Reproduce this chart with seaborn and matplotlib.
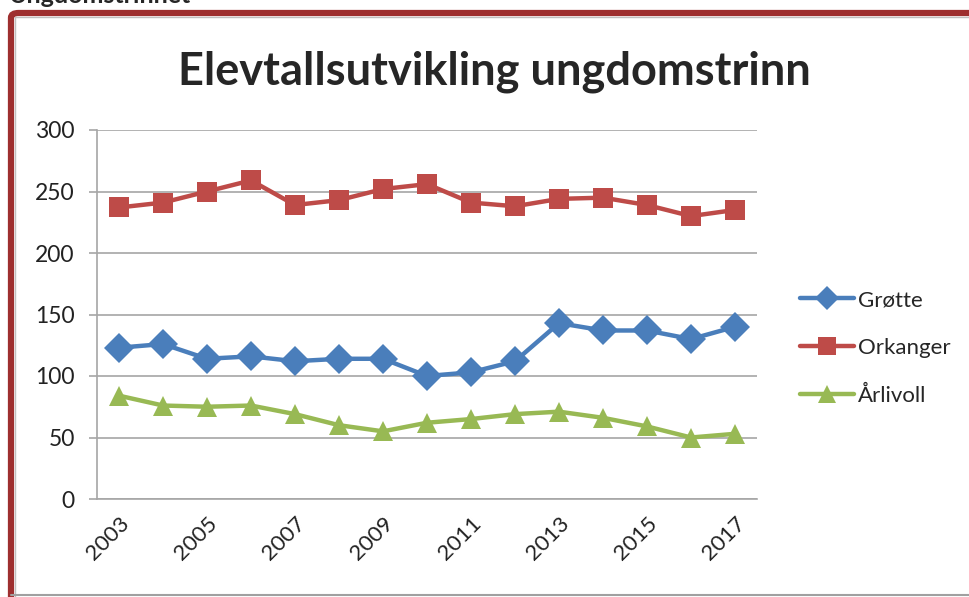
import matplotlib
matplotlib.use("Agg")
import matplotlib.pyplot as plt
import seaborn as sns
import pandas as pd
from matplotlib.patches import FancyBboxPatch
from matplotlib.lines import Line2D

years = list(range(2003, 2018))
grotte = [123, 126, 114, 116, 112, 114, 114, 100, 103, 112, 143, 137, 137, 130, 140]
orkanger = [237, 241, 250, 259, 239, 243, 252, 256, 241, 238, 244, 245, 239, 230, 235]
arlivoll = [84, 76, 75, 76, 69, 60, 55, 62, 65, 69, 71, 66, 59, 50, 53]
series_names = ["Grøtte", "Orkanger", "Årlivoll"]
colors = ["#4a7ebb", "#be4b48", "#98b954"]
markers = ["D", "s", "^"]
title = "Elevtallsutvikling ungdomstrinn"
yticks = [0, 50, 100, 150, 200, 250, 300]

rows = []
for name, vals in zip(series_names, [grotte, orkanger, arlivoll]):
    for i, (y, v) in enumerate(zip(years, vals)):
        rows.append({"pos": i, "year": y, "value": v, "serie": name})
df = pd.DataFrame(rows)

sns.set_style("white")
plt.rcParams["font.family"] = ["Lato", "DejaVu Sans"]

fig = plt.figure(figsize=(9.7, 5.97), dpi=100)
fig.patch.set_facecolor("white")
ax = fig.add_axes([97/970, 1-499/597, (757-97)/970, (499-130)/597])

sns.lineplot(data=df, x="pos", y="value", hue="serie", style="serie",
             palette=dict(zip(series_names, colors)),
             markers=dict(zip(series_names, markers)),
             dashes=False, linewidth=3.2, markersize=15, markeredgewidth=0,
             ax=ax, legend=False)

ax.set_xlim(-0.5, len(years) - 0.5)
ax.set_ylim(0, 300)
ax.set_yticks(yticks)
ax.set_yticklabels([str(t) for t in yticks], fontsize=16.5, color="#222222")
ax.yaxis.grid(True, color="#a6a6a6", linewidth=1.2)
ax.set_axisbelow(True)

odd_pos = [i for i, y in enumerate(years) if y % 2 == 1]
ax.set_xticks(odd_pos)
ax.set_xticklabels([str(years[i]) for i in odd_pos], rotation=45, ha="right",
                   rotation_mode="anchor", fontsize=16, color="#222222")
ax.tick_params(axis="x", which="major", length=0, pad=10)
ax.set_xticks([i - 0.5 for i in range(len(years) + 1)], minor=True)
ax.tick_params(axis="x", which="minor", length=8, color="#a6a6a6", width=1.2, direction="out")
ax.tick_params(axis="y", which="major", length=6, color="#a6a6a6", width=1.2, direction="out", left=True, pad=10)
ax.set_xlabel("")
ax.set_ylabel("")
for s in ["top", "right"]:
    ax.spines[s].set_visible(False)
for s in ["left", "bottom"]:
    ax.spines[s].set_color("#a6a6a6")
    ax.spines[s].set_linewidth(1.2)

handles = [Line2D([0], [0], color=c, marker=m, lw=3.2, markersize=12.5, markeredgewidth=0)
           for c, m in zip(colors, markers)]
fig.legend(handles, series_names, loc="center left", bbox_to_anchor=(780/970, 1-348/597),
           frameon=False, fontsize=16, handlelength=2.45, handletextpad=0.15, labelspacing=1.25)

fig.text(494/970, 1-72/597, title, ha="center", va="center", fontsize=32.5, fontweight="bold")
fig.text(8/970, 1-3/597, "Ungdomstrinnet", ha="left", va="baseline", fontsize=18, fontweight="bold")

# chart border
border = FancyBboxPatch((11/970, -0.2), 1.2, 1.2-13/597, boxstyle="round,pad=0,rounding_size=0.008",
                        transform=fig.transFigure, facecolor="none", edgecolor="#9e2f2f",
                        linewidth=4.5, zorder=0)
fig.patches.append(border)
fig.add_artist(Line2D([15/970, 1], [1-17/597, 1-17/597], color="#c0c0c0", lw=1, transform=fig.transFigure))
fig.add_artist(Line2D([15/970, 15/970], [1-17/597, 0], color="#c0c0c0", lw=1, transform=fig.transFigure))
fig.add_artist(Line2D([11/970, 1], [1-595/597, 1-595/597], color="#a0a0a0", lw=1.5, transform=fig.transFigure))

fig.savefig("out.png", dpi=100)
